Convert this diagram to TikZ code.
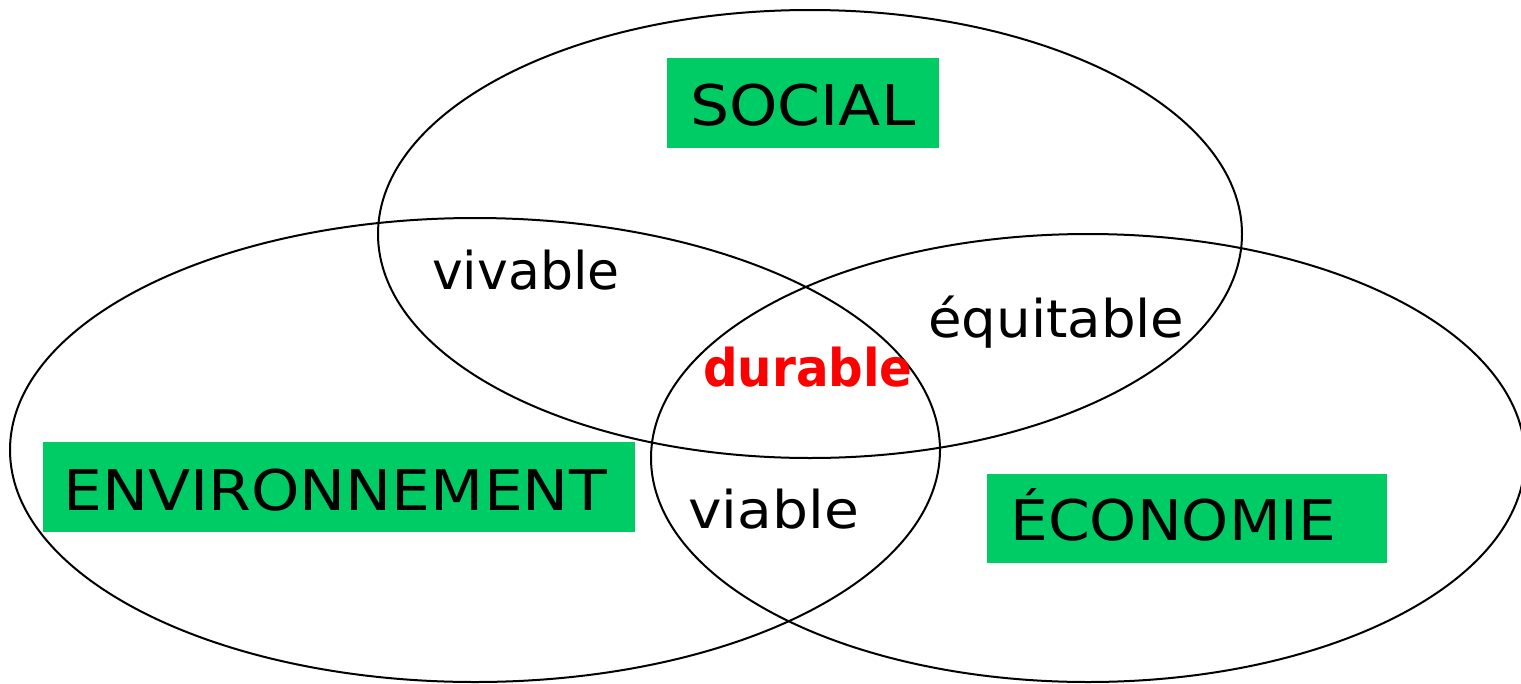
\documentclass[tikz,border=0pt]{standalone}
\usepackage{fontspec}
\setmainfont{DejaVu Sans}
\definecolor{boxgreen}{HTML}{00CC66}
\definecolor{durred}{HTML}{FF0000}
\begin{document}
\begin{tikzpicture}[x=1pt,y=-1pt,
  circ/.style={draw=black,line width=2pt},
  tagtxt/.style={anchor=base west,inner sep=0pt,font=\fontsize{56}{64}\selectfont},
  lbl/.style={anchor=base west,inner sep=0pt,font=\fontsize{52}{60}\selectfont}]
\useasboundingbox (0,0) rectangle (1521,683);
\fill[white] (0,0) rectangle (1521,683);
% ellipses
\draw[circ] (810,234) ellipse [x radius=432, y radius=224];
\draw[circ] (475,450) ellipse [x radius=465, y radius=232];
\draw[circ] (1088,458) ellipse [x radius=437, y radius=224];
% green boxes
\fill[boxgreen] (667,58) rectangle (939,148);
\fill[boxgreen] (43,442) rectangle (635,532);
\fill[boxgreen] (987,474) rectangle (1387,563);
\node[tagtxt] (social) at (690,125) {\scalebox{1.10}[1]{SOCIAL}};
\node[tagtxt] (env) at (63,510) {\scalebox{1.10}[1]{ENVIRONNEMENT}};
\node[tagtxt] (eco) at (1010,540) {\scalebox{1.07}[1]{ÉCONOMIE}};
\node[lbl] (vivable) at (432,289) {vivable};
\node[lbl] (equitable) at (928,337) {\scalebox{1.05}[1]{équitable}};
\node[lbl,text=durred,font=\bfseries\fontsize{52}{60}\selectfont] (durable) at (703,386) {\scalebox{0.93}[1]{durable}};
\node[lbl] (viable) at (688,528) {\scalebox{1.09}[1]{viable}};
\end{tikzpicture}
\end{document}
